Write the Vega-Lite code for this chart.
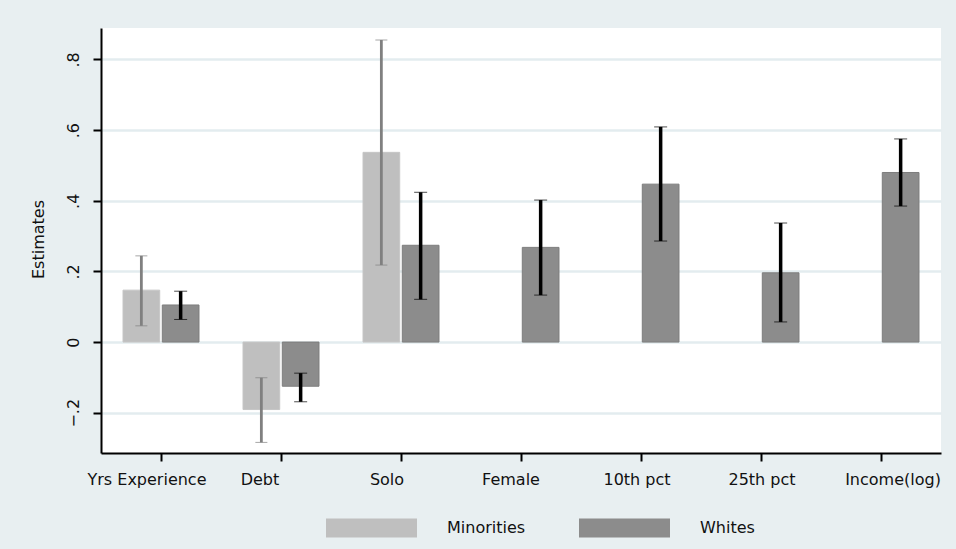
{
  "$schema": "https://vega.github.io/schema/vega-lite/v6.json",
  "width": 840,
  "height": 425,
  "autosize": {"type": "none"},
  "padding": {"left": 101, "top": 28, "right": 15, "bottom": 96},
  "background": "#e8eff1",
  "config": {
    "view": {"fill": "white", "stroke": null},
    "font": "DejaVu Sans",
    "axis": {"labelColor": "#111111", "titleColor": "#111111", "labelFont": "DejaVu Sans", "titleFont": "DejaVu Sans"},
    "legend": {"labelColor": "#111111", "labelFont": "DejaVu Sans"}
  },
  "data": {
    "values": [
      {"cat": "Yrs Experience", "group": "Minorities", "est": 0.147, "lo": 0.046, "hi": 0.244},
      {"cat": "Yrs Experience", "group": "Whites", "est": 0.105, "lo": 0.064, "hi": 0.144},
      {"cat": "Debt", "group": "Minorities", "est": -0.191, "lo": -0.284, "hi": -0.101},
      {"cat": "Debt", "group": "Whites", "est": -0.125, "lo": -0.169, "hi": -0.088},
      {"cat": "Solo", "group": "Minorities", "est": 0.537, "lo": 0.218, "hi": 0.855},
      {"cat": "Solo", "group": "Whites", "est": 0.274, "lo": 0.121, "hi": 0.424},
      {"cat": "Female", "group": "Whites", "est": 0.268, "lo": 0.133, "hi": 0.402},
      {"cat": "10th pct", "group": "Whites", "est": 0.447, "lo": 0.286, "hi": 0.609},
      {"cat": "25th pct", "group": "Whites", "est": 0.196, "lo": 0.057, "hi": 0.337},
      {"cat": "Income(log)", "group": "Whites", "est": 0.48, "lo": 0.385, "hi": 0.575}
    ]
  },
  "encoding": {
    "x": {
      "field": "cat",
      "type": "nominal",
      "sort": ["Yrs Experience", "Debt", "Solo", "Female", "10th pct", "25th pct", "Income(log)"],
      "scale": {"paddingInner": 0, "paddingOuter": 0},
      "axis": {
        "title": null,
        "labelAngle": 0,
        "labelFontSize": 16,
        "labelBaseline": "alphabetic",
        "labelPadding": 23,
        "labelOffset": {"expr": "datum.value === 'Yrs Experience' ? -14 : datum.value === 'Debt' ? -21 : datum.value === 'Solo' ? -14 : datum.value === 'Female' ? -10 : datum.value === '10th pct' ? -4 : datum.value === '25th pct' ? 1 : 12"},
        "tickSize": 8,
        "tickWidth": 2,
        "tickColor": "black",
        "domainColor": "black",
        "domainWidth": 2,
        "grid": false
      }
    },
    "xOffset": {
      "field": "group",
      "type": "nominal",
      "scale": {"domain": ["Minorities", "Whites"], "paddingInner": 0.066, "paddingOuter": 0.56}
    }
  },
  "layer": [
    {
      "mark": {"type": "bar", "strokeWidth": 1},
      "encoding": {
        "y": {
          "field": "est",
          "type": "quantitative",
          "scale": {"domain": [-0.314, 0.889], "nice": false, "zero": false},
          "axis": {
            "title": "Estimates",
            "values": [-0.2, 0, 0.2, 0.4, 0.6, 0.8],
            "labelExpr": "datum.value == 0 ? '0' : replace(format(datum.value, '.1f'), '0.', '.')",
            "labelAngle": 270,
            "labelAlign": "center",
            "labelBaseline": "alphabetic",
            "labelPadding": 15,
            "labelFontSize": 16,
            "tickSize": 8,
            "tickWidth": 2,
            "tickColor": "black",
            "domainColor": "black",
            "domainWidth": 2,
            "grid": true,
            "gridColor": "#e3ecef",
            "gridWidth": 2.5,
            "titleFontSize": 16,
            "titleFontWeight": "normal",
            "titleAngle": 270,
            "titleX": -58,
            "titleY": 211,
            "titleAlign": "center",
            "titleBaseline": "alphabetic"
          }
        },
        "color": {
          "field": "group",
          "type": "nominal",
          "scale": {"domain": ["Minorities", "Whites"], "range": ["#bfbfbf", "#8c8c8c"]},
          "legend": {
            "title": null,
            "orient": "none",
            "direction": "horizontal",
            "legendX": 225,
            "legendY": 454,
            "symbolType": "M-1,-0.21H1V0.21H-1Z",
            "symbolSize": 8281,
            "symbolOpacity": 1,
            "symbolStrokeWidth": 0,
            "labelFontSize": 16,
            "labelOffset": 30,
            "columnPadding": 53
          }
        },
        "stroke": {
          "condition": {"test": "datum.group === 'Whites'", "value": "#7d7d7d"},
          "value": "#c6c6c6"
        }
      }
    },
    {
      "mark": {"type": "rule"},
      "encoding": {
        "y": {"field": "lo", "type": "quantitative"},
        "y2": {"field": "hi"},
        "color": {"condition": {"test": "datum.group === 'Whites'", "value": "#000000"}, "value": "#808080"},
        "strokeWidth": {"condition": {"test": "datum.group === 'Whites'", "value": 3.5}, "value": 2.8}
      }
    },
    {
      "mark": {"type": "tick"},
      "encoding": {
        "y": {"field": "lo", "type": "quantitative"},
        "color": {"condition": {"test": "datum.group === 'Whites'", "value": "#000000"}, "value": "#808080"},
        "size": {"condition": {"test": "datum.group === 'Whites'", "value": 13}, "value": 12},
        "thickness": {"condition": {"test": "datum.group === 'Whites'", "value": 3}, "value": 2.5}
      }
    },
    {
      "mark": {"type": "tick"},
      "encoding": {
        "y": {"field": "hi", "type": "quantitative"},
        "color": {"condition": {"test": "datum.group === 'Whites'", "value": "#000000"}, "value": "#808080"},
        "size": {"condition": {"test": "datum.group === 'Whites'", "value": 13}, "value": 12},
        "thickness": {"condition": {"test": "datum.group === 'Whites'", "value": 3}, "value": 2.5}
      }
    }
  ]
}
